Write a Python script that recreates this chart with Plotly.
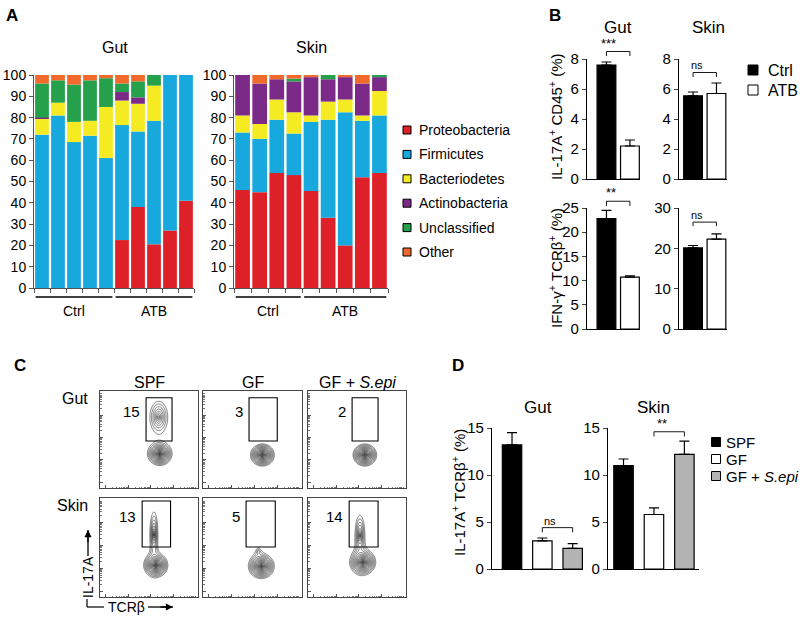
import numpy as np
import plotly.graph_objects as go

W, H = 800, 623
FONT = "Liberation Sans, Arial, Helvetica, sans-serif"

# ---------------- Panel A data ----------------
phyla = ["Proteobacteria", "Firmicutes", "Bacteriodetes", "Actinobacteria", "Unclassified", "Other"]
phylum_colors = ["#DE2128", "#17A8DD", "#F4EB22", "#7B2B87", "#24A14A", "#F26A2B"]

gut_samples = ["Ctrl"] * 5 + ["ATB"] * 5
gut_proteobacteria = [0, 0, 0, 0, 0, 22.5, 38, 20.5, 27, 41]
gut_firmicutes = [72, 81, 68.5, 71.5, 61, 54, 35.5, 58, 73, 59]
gut_bacteriodetes = [7.5, 6, 9.5, 7, 24, 11.5, 13, 16.5, 0, 0]
gut_actinobacteria = [0.5, 0, 0, 0, 0, 4, 3, 0, 0, 0]
gut_unclassified = [16, 10.5, 17.5, 19, 13.5, 4, 7.5, 5, 0, 0]
gut_other = [4, 2.5, 4.5, 2.5, 1.5, 4, 3, 0, 0, 0]

skin_samples = ["Ctrl"] * 4 + ["ATB"] * 5
skin_proteobacteria = [46, 45, 54, 53, 45.5, 33, 20, 52, 54]
skin_firmicutes = [27, 25, 25, 19.5, 32.5, 46, 62.5, 26.5, 27]
skin_bacteriodetes = [8, 7, 9.5, 10, 3, 8.5, 6, 2.5, 11.5]
skin_actinobacteria = [19, 19, 9.5, 14.5, 18, 10.5, 10.5, 15, 6.5]
skin_unclassified = [0, 0, 0, 1.3, 0, 2, 0, 0, 1]
skin_other = [0, 4, 2, 1.7, 1, 0, 1, 4, 0]
a_ticks = list(range(0, 101, 10))

# ---------------- Panel B data ----------------
b_groups = ["Ctrl", "ATB"]
b_colors = ["black", "white"]
b_il17_gut = [7.6, 2.2]
b_il17_gut_err = [0.2, 0.4]
b_il17_skin = [5.55, 5.7]
b_il17_skin_err = [0.25, 0.7]
b_ifng_gut = [22.8, 10.7]
b_ifng_gut_err = [1.7, 0.3]
b_ifng_skin = [20.1, 22.3]
b_ifng_skin_err = [0.6, 1.3]
b_sig_text = ["***", "ns", "**", "ns"]
b_sig_height = [8.5, 7.1, 26.4, 26.5]
b_sig_drop = [0.3, 0.3, 1.0, 1.0]

# ---------------- Panel C data ----------------
flow_rows = ["Gut", "Skin"]
flow_cols = ["SPF", "GF", "GF + <i>S.epi</i>"]
gate_pct = [[15, 3, 2], [13, 5, 14]]
main_cx = [[0.61, 0.60, 0.58], [0.57, 0.59, 0.56]]
main_cy = [[0.35, 0.34, 0.34], [0.32, 0.31, 0.35]]
main_s = [[0.0075, 0.0075, 0.0075], [0.0075, 0.008, 0.008]]
upper_cx = [[0.60, 0.60, 0.58], [0.55, 0.56, 0.53]]
upper_cy = [[0.73, 0.75, 0.75], [0.63, 0.46, 0.62]]
upper_sx = [[0.02, 0.03, 0.03], [0.009, 0.018, 0.011]]
upper_sy = [[0.036, 0.05, 0.05], [0.05, 0.03, 0.045]]
upper_w = [[0.06, 0.0, 0.0], [0.06, 0.012, 0.06]]
gate_x0 = [[0.47, 0.465, 0.45], [0.43, 0.435, 0.42]]
gate_x1 = [[0.735, 0.75, 0.715], [0.72, 0.73, 0.715]]
gate_y0 = [[0.485, 0.485, 0.485], [0.505, 0.505, 0.505]]
gate_y1 = [[0.93, 0.93, 0.93], [0.97, 0.97, 0.97]]

# ---------------- Panel D data ----------------
d_groups = ["SPF", "GF", "GF + <i>S.epi</i>"]
d_colors = ["black", "white", "#B3B3B3"]
d_gut = [13.2, 3.0, 2.2]
d_gut_err = [1.3, 0.3, 0.5]
d_skin = [11.0, 5.8, 12.2]
d_skin_err = [0.7, 0.7, 1.4]
d_sig_text = ["ns", "**"]
d_sig_height = [4.4, 14.6]
d_sig_drop = [0.5, 0.5]

# ---------------- helpers ----------------
layout = dict(
    width=W, height=H, margin=dict(l=0, r=0, t=0, b=0, pad=0, autoexpand=False),
    paper_bgcolor="white", plot_bgcolor="white",
    font=dict(family=FONT, color="black", size=13),
    showlegend=False, barmode="overlay",
)
AX = {}
traces = []
shapes = []
annotations = []


def axis(n, xpx, ypx, xr, yr, xkw=None, ykw=None):
    AX[n] = (xpx, ypx, xr, yr)
    sx = "" if n == 1 else str(n)
    base = dict(showgrid=False, zeroline=False, fixedrange=True, automargin=False)
    xa = dict(base, domain=[xpx[0] / W, xpx[1] / W], range=xr, anchor="y" + sx)
    ya = dict(base, domain=[1 - ypx[1] / H, 1 - ypx[0] / H], range=yr, anchor="x" + sx)
    xa.update(xkw or {})
    ya.update(ykw or {})
    layout["xaxis" + sx] = xa
    layout["yaxis" + sx] = ya
    return "x" + sx, "y" + sx


def d2p(n, xv, yv):
    xpx, ypx, xr, yr = AX[n]
    px = xpx[0] + (xv - xr[0]) / (xr[1] - xr[0]) * (xpx[1] - xpx[0])
    py = ypx[1] - (yv - yr[0]) / (yr[1] - yr[0]) * (ypx[1] - ypx[0])
    return px / W, 1 - py / H


def text(xpx, ypx, s, size=13, xanchor="center", yanchor="middle", angle=0, bold=False):
    if bold:
        s = "<b>" + s + "</b>"
    annotations.append(dict(x=xpx / W, y=1 - ypx / H, xref="paper", yref="paper", text=s,
                            showarrow=False, xanchor=xanchor, yanchor=yanchor, textangle=angle,
                            font=dict(size=size, family=FONT, color="black")))


def pline(x0, y0, x1, y1, w=1.2, color="black"):
    shapes.append(dict(type="line", xref="paper", yref="paper", x0=x0 / W, y0=1 - y0 / H,
                       x1=x1 / W, y1=1 - y1 / H, line=dict(color=color, width=w)))


def parrow(x_tail, y_tail, x_head, y_head):
    # shaft as a line shape, head as a short annotation arrow
    pline(x_tail, y_tail, x_head, y_head, w=1.3)
    dx = x_head - x_tail
    dy = y_head - y_tail
    L = (dx * dx + dy * dy) ** 0.5
    annotations.append(dict(x=x_head / W, y=1 - y_head / H, ax=-dx / L * 14, ay=-dy / L * 14,
                            xref="paper", yref="paper", text="", showarrow=True, arrowhead=2,
                            arrowsize=1.1, arrowwidth=1.3, arrowcolor="black", standoff=0,
                            startstandoff=0))


def psquare(cx, cy, size, fill):
    shapes.append(dict(type="rect", xref="paper", yref="paper",
                       x0=(cx - size / 2) / W, x1=(cx + size / 2) / W,
                       y0=1 - (cy + size / 2) / H, y1=1 - (cy - size / 2) / H,
                       fillcolor=fill, line=dict(color="black", width=1)))


def bracket(n, x0, x1, ytop, drop, label, size=12):
    px0, pyt = d2p(n, x0, ytop)
    px1, _ = d2p(n, x1, ytop)
    _, pyd = d2p(n, x0, ytop - drop)
    shapes.append(dict(type="path", xref="paper", yref="paper",
                       path=f"M {px0},{pyd} L {px0},{pyt} L {px1},{pyt} L {px1},{pyd}",
                       line=dict(color="black", width=0.9)))
    annotations.append(dict(x=(px0 + px1) / 2, y=pyt, xref="paper", yref="paper", text=label,
                            showarrow=False, yanchor="bottom", yshift=-1,
                            font=dict(size=size, family=FONT, color="black")))


# ---------------- Panel A ----------------
gut_stack = [gut_proteobacteria, gut_firmicutes, gut_bacteriodetes,
             gut_actinobacteria, gut_unclassified, gut_other]
skin_stack = [skin_proteobacteria, skin_firmicutes, skin_bacteriodetes,
              skin_actinobacteria, skin_unclassified, skin_other]

a_xkw = lambda n: dict(showline=True, linecolor="#555", linewidth=1, ticks="outside",
                       ticklen=4, tickcolor="#555", tickvals=[i - 0.5 for i in range(n + 1)],
                       showticklabels=False)
a_ykw = dict(showline=True, linecolor="#555", linewidth=1, ticks="outside", ticklen=4,
             tickcolor="#555", tickvals=a_ticks, tickfont=dict(size=14))

for n, (stack, samples, xpx, title, tx) in enumerate(
        [(gut_stack, gut_samples, (34, 194), "Gut", 115),
         (skin_stack, skin_samples, (234, 388), "Skin", 311)], start=1):
    m = len(samples)
    xa, ya = axis(n, xpx, (75, 288), [-0.5, m - 0.5], [0, 100], a_xkw(m), a_ykw)
    base = np.zeros(m)
    for vals, col, name in zip(stack, phylum_colors, phyla):
        traces.append(go.Bar(x=list(range(m)), y=vals, base=base.tolist(), width=0.86,
                             marker=dict(color=col, line=dict(width=0)), name=name,
                             xaxis=xa, yaxis=ya, hoverinfo="skip"))
        base = base + np.array(vals)
    text(tx, 48, title, size=16)
    for grp in ["Ctrl", "ATB"]:
        idx = [i for i, s in enumerate(samples) if s == grp]
        gx0, _ = d2p(n, idx[0] - 0.4, 0)
        gx1, _ = d2p(n, idx[-1] + 0.4, 0)
        pline(gx0 * W, 297, gx1 * W, 297, w=1.5)
        text((gx0 + gx1) / 2 * W, 311, grp, size=14)

text(12, 15, "A", size=17, bold=True)
for i, (name, col) in enumerate(zip(phyla, phylum_colors)):
    cy = 130 + i * 24.4
    psquare(407, cy, 8, col)
    text(417, cy, name, size=14, xanchor="left")

# ---------------- Panel B ----------------
b_panels = [
    (3, (587, 640), (59, 179), [-0.83, 1.43], [0, 8], [0, 2, 4, 6, 8], b_il17_gut, b_il17_gut_err),
    (4, (679, 727), (59, 179), [-0.6, 1.45], [0, 8], [0, 2, 4, 6, 8], b_il17_skin, b_il17_skin_err),
    (5, (587, 640), (208, 329), [-0.83, 1.43], [0, 25], [0, 5, 10, 15, 20, 25], b_ifng_gut, b_ifng_gut_err),
    (6, (679, 727), (208, 329), [-0.6, 1.45], [0, 30], [0, 10, 20, 30], b_ifng_skin, b_ifng_skin_err),
]
for k, (n, xpx, ypx, xr, yr, tv, vals, errs) in enumerate(b_panels):
    xa, ya = axis(n, xpx, ypx, xr, yr,
                  dict(showline=True, linecolor="black", linewidth=1.2, showticklabels=False, ticks=""),
                  dict(showline=True, linecolor="black", linewidth=1.2, ticks="outside", ticklen=4,
                       tickwidth=1.2, tickvals=tv, tickfont=dict(size=15)))
    traces.append(go.Bar(x=[0, 1], y=vals, width=0.8,
                         marker=dict(color=b_colors, line=dict(color="black", width=1.2)),
                         error_y=dict(type="data", symmetric=False, array=errs, arrayminus=[0, 0],
                                      color="black", thickness=1.2, width=5),
                         xaxis=xa, yaxis=ya, hoverinfo="skip"))
    bracket(n, 0, 1, b_sig_height[k], b_sig_drop[k], b_sig_text[k],
            size=13 if "*" in b_sig_text[k] else 11)

text(555, 15, "B", size=17, bold=True)
text(618, 27, "Gut", size=17)
text(708, 27, "Skin", size=17)
text(555, 117, "IL-17A<sup>+</sup> CD45<sup>+</sup> (%)", size=15, angle=-90)
text(555, 268, "IFN-γ<sup>+</sup> TCRβ<sup>+</sup> (%)", size=15, angle=-90)
for i, (g, c) in enumerate(zip(b_groups, b_colors)):
    cy = 70 + i * 20
    psquare(753, cy, 10, c)
    text(766, cy, g, size=16, xanchor="left")

# ---------------- Panel C ----------------
col_px = [(100, 198), (203, 302), (308, 406)]
row_px = [(391, 488), (498, 597)]
decades = [0.06, 0.29, 0.52, 0.75]
major = [d for d in decades]
minor = [d + np.log10(k) * 0.23 for d in decades for k in range(2, 10) if d + np.log10(k) * 0.23 < 1]
g = np.linspace(0, 1, 200)
GX, GY = np.meshgrid(g, g)
n = 7
for r in range(2):
    for c in range(3):
        fk = dict(showline=True, mirror=True, linecolor="#444", linewidth=1, ticks="inside",
                  ticklen=3, tickcolor="#555", tickvals=major, showticklabels=False,
                  minor=dict(tickvals=minor, ticklen=1.5, ticks="inside", tickcolor="#777"))
        xa, ya = axis(n, col_px[c], row_px[r], [0, 1], [0, 1], fk, dict(fk))
        q = ((GX - main_cx[r][c]) / main_s[r][c]) ** 2 + ((GY - main_cy[r][c]) / (main_s[r][c] * 0.95)) ** 2
        dens = np.exp(-q ** 0.3)
        if upper_w[r][c] > 0:
            q2 = ((GX - upper_cx[r][c]) / upper_sx[r][c]) ** 2 + ((GY - upper_cy[r][c]) / upper_sy[r][c]) ** 2
            dens = dens + upper_w[r][c] * np.exp(-q2 ** 0.3)
        z = np.log10(np.maximum(dens, 1e-8))
        traces.append(go.Contour(x=g, y=g, z=z, xaxis=xa, yaxis=ya, showscale=False,
                                 contours=dict(coloring="lines", start=-2.3, end=-0.05, size=0.12),
                                 colorscale=[[0, "#111"], [1, "#111"]], line=dict(width=0.55),
                                 hoverinfo="skip"))
        shapes.append(dict(type="rect", xref=xa, yref=ya, x0=gate_x0[r][c], x1=gate_x1[r][c],
                           y0=gate_y0[r][c], y1=gate_y1[r][c], line=dict(color="black", width=1.1)))
        annotations.append(dict(x=gate_x0[r][c], y=(gate_y0[r][c] + gate_y1[r][c]) / 2 + 0.08,
                                xref=xa, yref=ya, text=str(gate_pct[r][c]), showarrow=False,
                                xanchor="right", xshift=-4, font=dict(size=15, family=FONT)))
        n += 1

text(20, 365, "C", size=17, bold=True)
for c, t in enumerate(flow_cols):
    text((col_px[c][0] + col_px[c][1]) / 2, 382, t, size=16)
text(90, 398, "Gut", size=16, xanchor="right")
text(90, 505, "Skin", size=16, xanchor="right")
text(88, 577, "IL-17A", size=14, angle=-90)
parrow(88, 556, 88, 530)
pline(87, 599, 87, 607, w=1.2)
pline(87, 607, 104, 607, w=1.2)
text(106, 607, "TCRβ", size=14, xanchor="left")
parrow(148, 607, 173, 607)

# ---------------- Panel D ----------------
d_panels = [
    (13, (492, 583), [-0.66, 2.34], d_gut, d_gut_err, "Gut"),
    (14, (608, 699), [-0.51, 2.48], d_skin, d_skin_err, "Skin"),
]
for k, (nn, xpx, xr, vals, errs, title) in enumerate(d_panels):
    xa, ya = axis(nn, xpx, (428, 569), xr, [0, 15],
                  dict(showline=True, linecolor="black", linewidth=1.2, showticklabels=False, ticks=""),
                  dict(showline=True, linecolor="black", linewidth=1.2, ticks="outside", ticklen=4,
                       tickwidth=1.2, tickvals=[0, 5, 10, 15], tickfont=dict(size=15)))
    traces.append(go.Bar(x=[0, 1, 2], y=vals, width=0.64,
                         marker=dict(color=d_colors, line=dict(color="black", width=1.2)),
                         error_y=dict(type="data", symmetric=False, array=errs, arrayminus=[0, 0, 0],
                                      color="black", thickness=1.2, width=5),
                         xaxis=xa, yaxis=ya, hoverinfo="skip"))
    text((xpx[0] + xpx[1]) / 2, 407, title, size=17)
    bracket(nn, 1, 2, d_sig_height[k], d_sig_drop[k], d_sig_text[k],
            size=13 if "*" in d_sig_text[k] else 11)

text(458, 365, "D", size=17, bold=True)
text(458, 493, "IL-17A<sup>+</sup> TCRβ<sup>+</sup> (%)", size=15, angle=-90)
for i, (g_, c_) in enumerate(zip(d_groups, d_colors)):
    cy = 442 + i * 17
    psquare(716, cy, 9, c_)
    text(724, cy, g_, size=15, xanchor="left")

layout["shapes"] = shapes
layout["annotations"] = annotations
fig = go.Figure(data=traces, layout=layout)
fig.write_html("out.html", config={"displayModeBar": False},
               post_script="document.body.style.margin='0px';document.body.style.overflow='hidden';")
